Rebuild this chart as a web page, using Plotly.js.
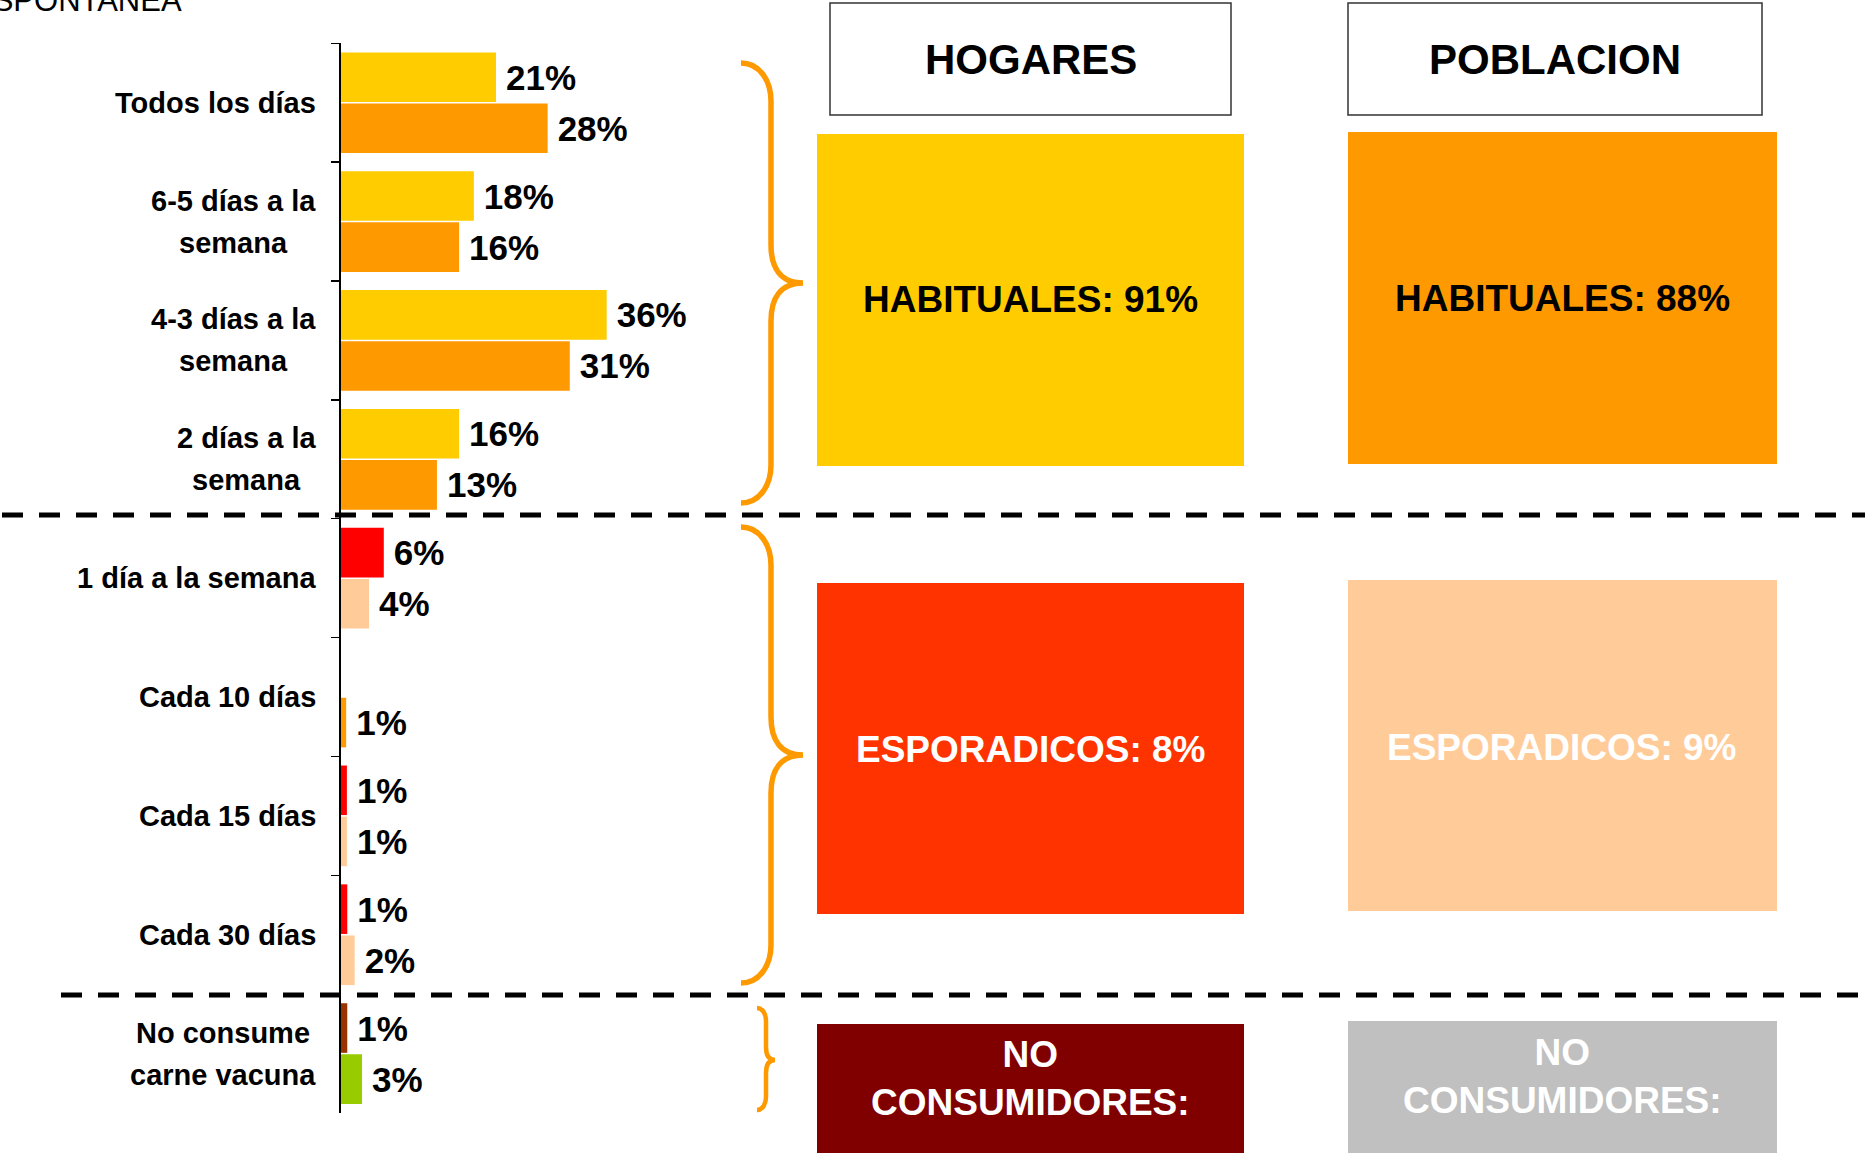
<!DOCTYPE html>
<html>
<head>
<meta charset="utf-8">
<script src="https://cdn.plot.ly/plotly-3.0.1.min.js"></script>
<style>html,body{margin:0;padding:0;background:#fff;}#chart{width:1865px;height:1153px;}</style>
</head>
<body>
<div id="chart"></div>
<script>
// ---------- data ----------
const categories = ['Todos los días', '6-5 días a la semana', '4-3 días a la semana', '2 días a la semana',
  '1 día a la semana', 'Cada 10 días', 'Cada 15 días', 'Cada 30 días', 'No consume carne vacuna'];
const categoryLabelLines = [['Todos los días'], ['6-5 días a la', 'semana'], ['4-3 días a la', 'semana'],
  ['2 días a la', 'semana'], ['1 día a la semana'], ['Cada 10 días'], ['Cada 15 días'], ['Cada 30 días'],
  ['No consume', 'carne vacuna']];
const hogares   = [21, 18, 36, 16, 5.8, null, 0.8, 0.85, 0.85];
const poblacion = [28, 16, 31, 13, 3.8, 0.7, 0.8, 1.85, 2.85];
const headerLabels = ['HOGARES', 'POBLACION'];
const habitualesLabels = ['HABITUALES: 91%', 'HABITUALES: 88%'];
const esporadicosLabels = ['ESPORADICOS: 8%', 'ESPORADICOS: 9%'];
const noConsLabels = ['NO<br>CONSUMIDORES:', 'NO<br>CONSUMIDORES:'];
const topText = 'ESPONTANEA';

// ---------- styles ----------
const hogColors = ['#FFCC00','#FFCC00','#FFCC00','#FFCC00','#FF0000','#FF0000','#FF0000','#FF0000','#993300'];
const pobColors = ['#FF9900','#FF9900','#FF9900','#FF9900','#FFCC99','#FF9900','#FFCC99','#FFCC99','#99CC00'];
const FONT = '"Liberation Sans", Arial, sans-serif';
const W = 1865, H = 1153;
const X = px => px / W;
const Y = py => 1 - py / H;
const PXPCT = 7.38;

const barText = {family: FONT, size: 35, color: '#000', weight: 'bold'};
const traces = [
  {type: 'bar', orientation: 'h', y: categories, x: hogares, name: 'Hogares',
   marker: {color: hogColors}, texttemplate: '\u2009%{x:.0f}%', textposition: 'outside',
   textfont: barText, cliponaxis: false, constraintext: 'none', hoverinfo: 'skip'},
  {type: 'bar', orientation: 'h', y: categories, x: poblacion, name: 'Población',
   marker: {color: pobColors}, texttemplate: '\u2009%{x:.0f}%', textposition: 'outside',
   textfont: barText, cliponaxis: false, constraintext: 'none', hoverinfo: 'skip'}
];

// category labels, centred lines, right edge at 316px
const ctx = document.createElement('canvas').getContext('2d');
ctx.font = 'bold 29px "Liberation Sans"';
const annotations = [];
categoryLabelLines.forEach((lines, i) => {
  const maxW = Math.max(...lines.map(l => ctx.measureText(l).width));
  lines.forEach((line, j) => {
    annotations.push({xref: 'paper', yref: 'y', x: X(316 - maxW / 2), y: categories[i],
      xanchor: 'center', yanchor: 'middle', showarrow: false, text: line,
      yshift: ((lines.length - 1) / 2 - j) * 42,
      font: {family: FONT, size: 29, color: '#000', weight: 'bold'}});
  });
});

function pAnn(text, cx, cy, size, color, extra) {
  return Object.assign({xref: 'paper', yref: 'paper', x: X(cx), y: Y(cy), xanchor: 'center', yanchor: 'middle',
    showarrow: false, text: text, align: 'center',
    font: {family: FONT, size: size, color: color, weight: 'bold'}}, extra || {});
}
annotations.push(pAnn(headerLabels[0], 1030.5, 59, 42, '#000'));
annotations.push(pAnn(headerLabels[1], 1555, 59, 42, '#000'));
annotations.push(pAnn(habitualesLabels[0], 1030.5, 300, 37, '#000'));
annotations.push(pAnn(habitualesLabels[1], 1562, 298, 37, '#000'));
annotations.push(pAnn(esporadicosLabels[0], 1030.5, 749, 37, '#fff'));
annotations.push(pAnn(esporadicosLabels[1], 1562, 747, 37, '#fff'));
annotations.push(pAnn(noConsLabels[0], 1030.5, 1078, 37, '#fff'));
annotations.push(pAnn(noConsLabels[1], 1562, 1076, 37, '#fff'));
annotations.push({xref: 'paper', yref: 'paper', x: X(184), y: Y(0), xanchor: 'right', yanchor: 'middle',
  showarrow: false, text: topText, font: {family: FONT, size: 31, color: '#000'}});

// shapes
function rect(x0, y0, x1, y1, fill, line) {
  return {type: 'rect', xref: 'paper', yref: 'paper', x0: X(x0), x1: X(x1), y0: Y(y1), y1: Y(y0),
    fillcolor: fill, line: line || {width: 0}, layer: 'below'};
}
function pathOf(pts) {
  return pts.map(c => c[0] + ' ' + c.slice(1).reduce((acc, v, k) => {
    acc.push(k % 2 === 0 ? X(v).toFixed(6) : Y(v).toFixed(6)); return acc; }, []).join(',')).join(' ');
}
function brace(xl, xv, xt, yt, ym, yb, r, w) {
  return {type: 'path', xref: 'paper', yref: 'paper', line: {color: '#FF9900', width: w},
    path: pathOf([
      ['M', xl, yt],
      ['C', xl + (xv - xl) * 0.65, yt, xv, yt + r * 0.5, xv, yt + r],
      ['L', xv, ym - r],
      ['C', xv, ym - r * 0.4, xv + (xt - xv) * 0.3, ym, xt, ym],
      ['C', xv + (xt - xv) * 0.3, ym, xv, ym + r * 0.4, xv, ym + r],
      ['L', xv, yb - r],
      ['C', xv, yb - r * 0.5, xl + (xv - xl) * 0.65, yb, xl, yb]
    ])};
}
const shapes = [
  rect(830, 3, 1231, 115, '#fff', {color: '#333', width: 1.5}),
  rect(1348, 3, 1762, 115, '#fff', {color: '#333', width: 1.5}),
  rect(817, 134, 1244, 466, '#FFCC00'),
  rect(1348, 132, 1777, 464, '#FF9900'),
  rect(817, 583, 1244, 914, '#FF3300'),
  rect(1348, 580, 1777, 911, '#FFCC99'),
  rect(817, 1024, 1244, 1160, '#800000'),
  rect(1348, 1021, 1777, 1160, '#C0C0C0'),
  brace(741, 771, 803, 63, 283, 503, 38, 5.5),
  brace(741, 771, 803, 527, 755, 983, 38, 5.5),
  brace(757, 766, 775, 1008, 1060, 1110, 13, 4.5),
  {type: 'line', xref: 'paper', yref: 'paper', x0: X(2), x1: X(1865), y0: Y(515), y1: Y(515),
   line: {color: '#000', width: 5, dash: '21px,16px'}},
  {type: 'line', xref: 'paper', yref: 'paper', x0: X(61), x1: X(1865), y0: Y(995), y1: Y(995),
   line: {color: '#000', width: 5, dash: '21px,16px'}}
];

const layout = {
  width: W, height: H, margin: {l: 0, r: 0, t: 0, b: 0},
  paper_bgcolor: '#fff', plot_bgcolor: 'rgba(0,0,0,0)', showlegend: false,
  barmode: 'group', bargap: 0.14, bargroupgap: 0.03,
  xaxis: {domain: [X(341), X(341 + 50 * PXPCT)], range: [0, 50], visible: false, fixedrange: true},
  yaxis: {domain: [Y(1113), Y(43.3)], type: 'category', range: [8.5, -0.5],
    showline: true, linecolor: '#000', linewidth: 2, ticks: 'outside', ticklen: 8, tickwidth: 1.5,
    tickcolor: '#000', tickson: 'boundaries', showticklabels: false, showgrid: false, zeroline: false,
    fixedrange: true},
  annotations: annotations, shapes: shapes
};

Plotly.newPlot('chart', traces, layout, {displayModeBar: false, staticPlot: true});
</script>
</body>
</html>
